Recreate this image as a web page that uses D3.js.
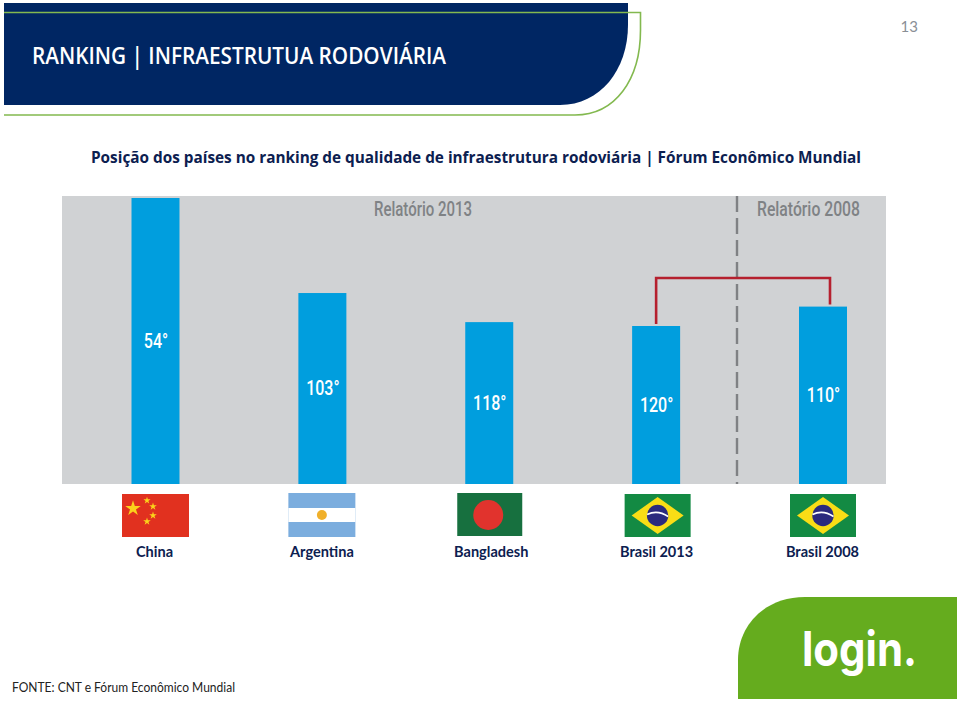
<!DOCTYPE html>
<html><head><meta charset="utf-8">
<script src="https://cdn.jsdelivr.net/npm/d3@7"></script>
<style>html,body{margin:0;padding:0;background:#fff}svg{display:block}text{font-family:Lato,sans-serif}</style>
</head><body><svg id="c" width="960" height="701"></svg>
<script>
const categories=["China","Argentina","Bangladesh","Brasil 2013","Brasil 2008"];
const ranks=[54,103,118,120,110];
const rankLabels=["54°","103°","118°","120°","110°"];
const flags=["cn","ar","bd","br","br"];
const reports=["Relatório 2013","Relatório 2008"];
const title="RANKING | INFRAESTRUTUA RODOVIÁRIA";
const subtitle="Posição dos países no ranking de qualidade de infraestrutura rodoviária | Fórum Econômico Mundial";
const source="FONTE: CNT e Fórum Econômico Mundial";
const pageNumber="13";

const svg=d3.select("#c");
const navy="#002663",dark="#0c2050";
const squeeze=(sel,k)=>sel.each(function(){this.setAttribute("textLength",this.getComputedTextLength()*k);this.setAttribute("lengthAdjust","spacingAndGlyphs");});
// header
svg.append("path").attr("fill",navy).attr("d","M4,3H628V25C628,70 600,105 560,105H4Z");
svg.append("path").attr("fill","none").attr("stroke","#83b94f").attr("stroke-width",1.6)
 .attr("d","M4,12.5H640.5V30C640.5,80 615,115 575,115H4");
svg.append("text").attr("x",32).attr("y",64).attr("fill","#fff").attr("font-size",22.5).attr("font-weight",600)
 .style("font-family","'Open Sans',sans-serif").attr("textLength",414).attr("lengthAdjust","spacingAndGlyphs").text(title);
svg.append("text").attr("x",918).attr("y",32).attr("text-anchor","end").attr("fill","#8a8f96").attr("font-size",15).text(pageNumber);
svg.append("text").attr("x",91).attr("y",163).attr("fill",dark).attr("font-size",16).attr("font-weight",700)
 .style("font-family","'Open Sans',sans-serif").attr("textLength",770).attr("lengthAdjust","spacingAndGlyphs").text(subtitle);

// panel
const panel={l:62,r:886,t:196,b:484};
svg.append("rect").attr("x",panel.l).attr("y",panel.t).attr("width",panel.r-panel.l).attr("height",panel.b-panel.t).attr("fill","#d0d2d4");
const x=d3.scalePoint().domain(categories).range([155.5,823]);
const y=d3.scaleLinear().domain([54,120]).range([198,326]);
const bw=48;
const data=categories.map((c,i)=>({c,r:ranks[i],l:rankLabels[i],f:flags[i],i}));
svg.selectAll("rect.bar").data(data).join("rect").attr("class","bar")
 .attr("x",d=>x(d.c)-bw/2).attr("y",d=>y(d.r)).attr("width",bw).attr("height",d=>panel.b-y(d.r)).attr("fill","#009ede");
svg.selectAll("text.val").data(data).join("text").attr("class","val")
 .attr("x",d=>x(d.c)+.5).attr("y",d=>(y(d.r)+panel.b)/2+6.5).attr("text-anchor","middle").attr("fill","#fff")
 .attr("font-size",20).attr("font-weight",500).style("font-family","'Roboto',sans-serif").text(d=>d.l).call(squeeze,.8);
// divider
svg.append("line").attr("x1",737).attr("x2",737).attr("y1",196).attr("y2",484)
 .attr("stroke","#7f8184").attr("stroke-width",2.4).attr("stroke-dasharray","16 6");
svg.selectAll("text.rep").data(reports).join("text").attr("class","rep")
 .attr("x",(d,i)=>[374,757][i]).attr("y",216).attr("fill","#7f8285").attr("font-size",20).attr("font-weight",500)
 .style("font-family","'Roboto',sans-serif").attr("textLength",(d,i)=>[98,103][i]).attr("lengthAdjust","spacingAndGlyphs").text(d=>d);
// red bracket
const b13=x("Brasil 2013"),b08=x("Brasil 2008");
svg.append("path").attr("fill","none").attr("stroke","#b5202e").attr("stroke-width",2.6)
 .attr("d",d3.line()([[b13,y(120)-2],[b13,278],[b08+7,278],[b08+7,y(110)-2]]));

// flags
const flagShift=[0,-.5,0,1.5,0];
const g=svg.selectAll("g.flag").data(data).join("g").attr("class","flag")
 .attr("transform",d=>`translate(${x(d.c)+flagShift[d.i]},515.5)`);
const star=(r)=>d3.symbol().type(d3.symbolStar).size(r)();
g.each(function(d){
 const s=d3.select(this);
 if(d.f==="cn"){
  s.append("rect").attr("x",-33.5).attr("y",-21.5).attr("width",67).attr("height",43).attr("fill","#e1311f");
  [[-22.5,-7,75],[-8.5,-15,16],[-2.5,-9,18],[-2.5,0,18],[-8.5,6,18]].forEach(p=>
   s.append("path").attr("d",star(p[2])).attr("transform",`translate(${p[0]},${p[1]})`).attr("fill","#fbd21b"));
 } else if(d.f==="ar"){
  s.append("rect").attr("x",-33.5).attr("y",-22.5).attr("width",67).attr("height",44).attr("fill","#7badde");
  s.append("rect").attr("x",-33.5).attr("y",-7.5).attr("width",67).attr("height",14).attr("fill","#fff");
  s.append("circle").attr("r",5).attr("cy",-.5).attr("fill","#f0b02b");
 } else if(d.f==="bd"){
  s.append("rect").attr("x",-32).attr("y",-22.5).attr("width",65).attr("height",43).attr("fill","#17703f");
  s.append("circle").attr("cx",-1).attr("cy",-.5).attr("r",15).attr("fill","#e1332d");
 } else {
  s.append("rect").attr("x",-33).attr("y",-21.5).attr("width",66).attr("height",43).attr("fill","#138a43");
  s.append("path").attr("d","M0,-18.5L26,0L0,18.5L-26,0Z").attr("fill","#f9dd16");
  s.append("circle").attr("r",10.7).attr("fill","#2b2a7e");
  s.append("path").attr("d","M-10.5,-1Q0,-6 10.5,1").attr("fill","none").attr("stroke","#fff").attr("stroke-width",1.6);
 }
});
const labelShift=[-1,-.5,2,.5,-.5];
svg.selectAll("text.cat").data(data).join("text").attr("class","cat")
 .attr("x",d=>x(d.c)+labelShift[d.i]).attr("y",557).attr("text-anchor","middle").attr("fill",dark).attr("font-size",15).attr("font-weight",700).text(d=>d.c).call(squeeze,.97);
svg.append("text").attr("x",12).attr("y",692).attr("fill","#222").attr("font-size",14).attr("textLength",223).attr("lengthAdjust","spacingAndGlyphs").text(source);

// logo
svg.append("path").attr("fill","#65ac1e").attr("d","M738,699V660C738,625 765,597 805,597H957V699Z");
svg.append("text").attr("x",802).attr("y",666).attr("fill","#fff").attr("font-size",48).attr("font-weight",700)
 .style("font-family","'Inter',sans-serif").attr("textLength",115).attr("lengthAdjust","spacingAndGlyphs").text("login.");
</script></body></html>
